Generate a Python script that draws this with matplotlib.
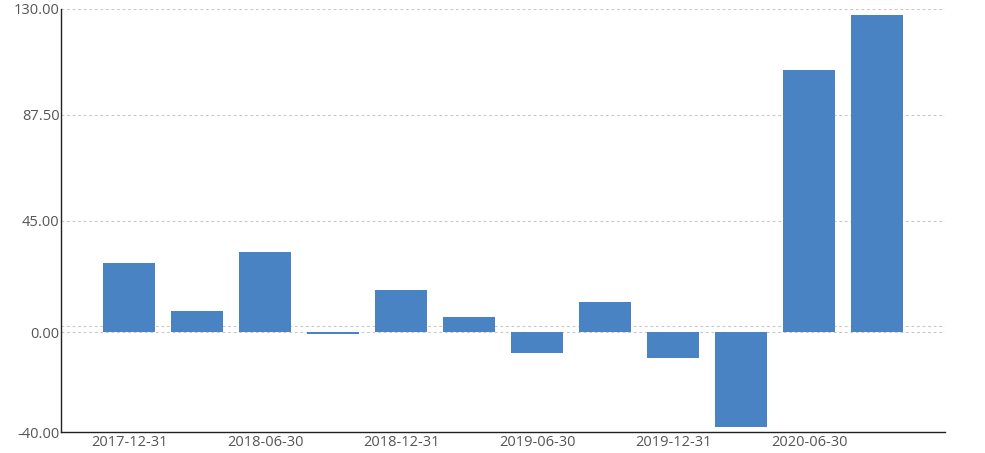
import matplotlib
matplotlib.use("Agg")
import matplotlib.pyplot as plt

categories = ["2017-12-31", "2018-03-31", "2018-06-30", "2018-09-30",
              "2018-12-31", "2019-03-31", "2019-06-30", "2019-09-30",
              "2019-12-31", "2020-03-31", "2020-06-30", "2020-09-30"]
values = [27.8, 8.8, 32.2, -0.8, 16.9, 6.2, -8.3, 12.1, -10.3, -38.1, 105.4, 127.6]
yticks = [-40.0, 0.0, 45.0, 87.5, 130.0]
ref_line = 2.4

plt.rcParams['font.family'] = ['Open Sans', 'DejaVu Sans']

fig = plt.figure(figsize=(9.85, 4.53), dpi=100)
ax = fig.add_axes([61/985, 21/453, 884/985, 423/453])

x = list(range(len(categories)))
ax.bar(x, values, width=0.765, color="#4a83c4", zorder=3)

ax.set_xlim(-1, 12)
ax.set_ylim(-40, 130)
ax.set_yticks(yticks)
ax.set_yticklabels([f"{v:.2f}" for v in yticks])
ax.set_xticks(x[::2])
ax.set_xticklabels(categories[::2])

for v in yticks[1:]:
    ax.axhline(v, color="#c8c8c8", linestyle=(0, (2.5, 2.5)), linewidth=0.8, zorder=1)
ax.axhline(ref_line, color="#c8c8c8", linestyle=(0, (2.5, 2.5)), linewidth=0.8, zorder=1)

for s in ["top", "right"]:
    ax.spines[s].set_visible(False)
ax.spines["left"].set_color("#222222")
ax.spines["bottom"].set_color("#222222")
ax.spines["left"].set_linewidth(1.0)
ax.spines["bottom"].set_linewidth(1.0)
ax.tick_params(axis="both", length=0, labelsize=10.5, labelcolor="#555555", pad=1)
ax.tick_params(axis="x", pad=2)

fig.savefig("out.png", dpi=100)
